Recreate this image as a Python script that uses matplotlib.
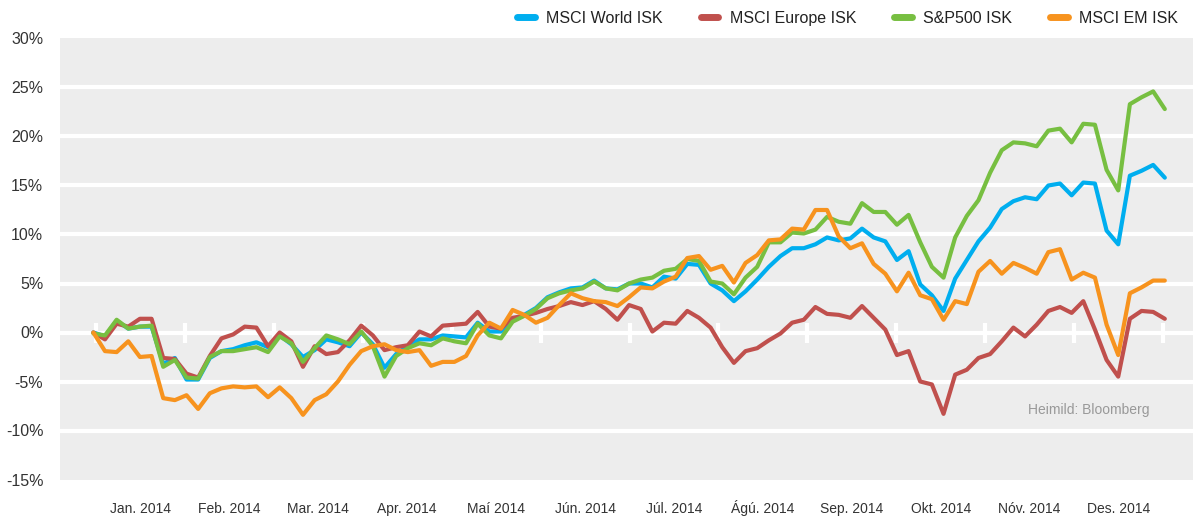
import numpy as np
import matplotlib
matplotlib.use("Agg")
import matplotlib.pyplot as plt

# month labels (axis is split into 12 equal month slots, like the excel category axis)
months = ["Jan. 2014", "Feb. 2014", "Mar. 2014", "Apr. 2014", "Maí 2014", "Jún. 2014",
          "Júl. 2014", "Ágú. 2014", "Sep. 2014", "Okt. 2014", "Nóv. 2014", "Des. 2014"]

# return since start of year, % at evenly spaced trading points
msci_world = [0.0, -0.4, 1.2, 0.4, 0.6, 0.6, -3.2, -2.6, -4.8, -4.8,
              -2.6, -1.9, -1.7, -1.3, -1.0, -1.5, -0.3, -1.2, -2.5, -1.8,
              -0.7, -1.0, -1.4, 0.0, -1.2, -3.6, -2.2, -1.4, -0.7, -0.7,
              -0.3, -0.4, -0.5, 1.0, 0.1, 0.1, 1.2, 1.8, 2.5, 3.6,
              4.1, 4.5, 4.6, 5.3, 4.5, 4.4, 5.0, 5.0, 4.6, 5.7,
              5.5, 7.0, 6.9, 5.0, 4.3, 3.2, 4.2, 5.4, 6.7, 7.8,
              8.6, 8.6, 9.0, 9.7, 9.4, 9.6, 10.6, 9.7, 9.3, 7.4,
              8.3, 4.9, 3.8, 2.2, 5.5, 7.4, 9.3, 10.7, 12.6, 13.4,
              13.8, 13.6, 15.0, 15.2, 14.0, 15.3, 15.2, 10.4, 9.0, 16.0,
              16.5, 17.1, 15.8]
msci_europe = [0.0, -0.7, 0.9, 0.6, 1.4, 1.4, -2.6, -2.7, -4.2, -4.6,
               -2.4, -0.6, -0.2, 0.6, 0.5, -1.4, 0.0, -0.9, -3.5, -1.4,
               -2.2, -2.0, -0.8, 0.7, -0.3, -1.8, -1.5, -1.3, 0.1, -0.4,
               0.7, 0.8, 0.9, 2.1, 0.6, 0.4, 1.5, 1.7, 2.0, 2.4,
               2.7, 3.1, 2.8, 3.2, 2.4, 1.3, 2.8, 2.4, 0.1, 1.0,
               0.9, 2.2, 1.5, 0.5, -1.5, -3.1, -1.9, -1.6, -0.8, -0.1,
               1.0, 1.3, 2.6, 1.9, 1.8, 1.5, 2.7, 1.5, 0.3, -2.3,
               -1.9, -5.0, -5.3, -8.3, -4.3, -3.8, -2.6, -2.2, -0.9, 0.5,
               -0.4, 0.8, 2.2, 2.6, 2.0, 3.2, 0.3, -2.8, -4.5, 1.4,
               2.2, 2.1, 1.4]
sp500 = [-0.1, -0.3, 1.3, 0.4, 0.6, 0.7, -3.5, -2.8, -4.6, -4.7,
         -2.5, -1.9, -1.9, -1.7, -1.5, -2.0, -0.4, -1.1, -3.0, -1.6,
         -0.3, -0.7, -1.2, 0.1, -1.4, -4.5, -2.4, -1.6, -1.1, -1.3,
         -0.6, -0.9, -1.1, 0.9, -0.3, -0.6, 1.1, 1.7, 2.4, 3.5,
         4.0, 4.3, 4.5, 5.2, 4.5, 4.3, 5.0, 5.4, 5.6, 6.3,
         6.5, 7.5, 7.3, 5.2, 5.0, 3.9, 5.6, 6.7, 9.2, 9.2,
         10.2, 10.1, 10.5, 11.8, 11.3, 11.1, 13.2, 12.3, 12.3, 11.0,
         12.0, 9.2, 6.7, 5.6, 9.7, 11.9, 13.5, 16.3, 18.6, 19.4,
         19.3, 19.0, 20.6, 20.8, 19.4, 21.3, 21.2, 16.6, 14.5, 23.3,
         24.0, 24.6, 22.8]
msci_em = [0.0, -1.9, -2.0, -0.9, -2.5, -2.4, -6.7, -6.9, -6.4, -7.8,
           -6.2, -5.7, -5.5, -5.6, -5.5, -6.6, -5.6, -6.7, -8.4, -6.9,
           -6.3, -5.0, -3.3, -1.9, -1.4, -1.2, -1.8, -2.0, -1.8, -3.4,
           -3.0, -3.0, -2.4, -0.3, 1.0, 0.4, 2.3, 1.8, 1.0, 1.5,
           2.8, 4.0, 3.5, 3.2, 3.1, 2.7, 3.6, 4.6, 4.5, 5.2,
           5.7, 7.6, 7.8, 6.4, 6.8, 5.1, 7.1, 7.9, 9.4, 9.5,
           10.6, 10.5, 12.5, 12.5, 9.8, 8.6, 9.1, 7.0, 6.0, 4.2,
           6.1, 3.8, 3.4, 1.3, 3.2, 2.9, 6.2, 7.3, 6.0, 7.1,
           6.6, 6.0, 8.2, 8.5, 5.4, 6.1, 5.6, 0.8, -2.3, 4.0,
           4.6, 5.3, 5.3]

series = [("MSCI World ISK", msci_world, "#00aeef"),
          ("MSCI Europe ISK", msci_europe, "#c0504d"),
          ("S&P500 ISK", sp500, "#77bf41"),
          ("MSCI EM ISK", msci_em, "#f7931e")]

plt.rcParams['font.family'] = ['Liberation Sans', 'DejaVu Sans']

# sample positions in month units (0 = start of Jan, 12 = end of Dec)
x = np.linspace(-0.03, 12.02, len(msci_world))

fig = plt.figure(figsize=(11.95, 5.17), dpi=100)
ax = fig.add_axes([60/1195, 1 - 479.5/517, 1133/1195, 441/517])
ax.set_facecolor("#ededed")

for name, vals, col in series:
    ax.plot(x, vals, color=col, lw=3.0, label=name, solid_capstyle='round', zorder=3)

ax.set_ylim(-15, 30)
ax.set_xlim(-0.405, 12.337)
yt = np.arange(-15, 31, 5)
ax.set_yticks(yt)
ax.set_yticklabels([f"{v}%" for v in yt], fontsize=11.5, color="#333333")
for v in yt[1:-1]:
    ax.axhline(v, color="white", lw=3, zorder=1)
# month boundary tick marks on the zero line
edges = np.arange(13)
ax.plot(edges, np.zeros(13), ls='none', marker='|', ms=14, mew=3, color="white", zorder=2)

ax.set_xticks(np.arange(12) + 0.5)
ax.set_xticklabels(months, fontsize=10, color="#333333")
for lab in ax.get_xticklabels():
    lab.set_verticalalignment('baseline')
ax.tick_params(axis='both', length=0)
ax.tick_params(axis='x', pad=24)
ax.tick_params(axis='y', pad=12)
for s in ax.spines.values():
    s.set_visible(False)

ax.text(0.962, 0.157, "Heimild: Bloomberg", transform=ax.transAxes, ha='right', va='center',
        fontsize=10, color="#999999")

leg = fig.legend(loc='center right', bbox_to_anchor=(0.998, 0.965), ncol=4, frameon=False,
                 fontsize=11.5, handlelength=1.1, handletextpad=0.7, columnspacing=2.4)
for h in leg.get_lines():
    h.set_linewidth(5)
    h.set_solid_capstyle('round')
for t in leg.get_texts():
    t.set_color("#222222")

fig.savefig("out.png", dpi=100)
